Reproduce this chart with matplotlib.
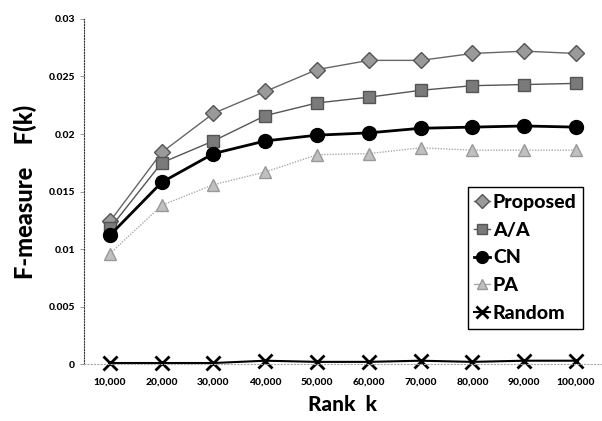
import matplotlib.pyplot as plt

ranks = ["10,000", "20,000", "30,000", "40,000", "50,000",
         "60,000", "70,000", "80,000", "90,000", "100,000"]
proposed = [0.0124, 0.0184, 0.0218, 0.0237, 0.0256, 0.0264, 0.0264, 0.0270, 0.0272, 0.0270]
aa = [0.0118, 0.0175, 0.0194, 0.0216, 0.0227, 0.0232, 0.0238, 0.0242, 0.0243, 0.0244]
cn = [0.0112, 0.0158, 0.0183, 0.0194, 0.0199, 0.0201, 0.0205, 0.0206, 0.0207, 0.0206]
pa = [0.0096, 0.0138, 0.0156, 0.0167, 0.0182, 0.0183, 0.0188, 0.0186, 0.0186, 0.0186]
rnd = [0.0001, 0.0001, 0.0001, 0.0003, 0.0002, 0.0002, 0.0003, 0.0002, 0.0003, 0.0003]
yticks = [0, 0.005, 0.01, 0.015, 0.02, 0.025, 0.03]
ytick_labels = ["0", "0.005", "0.01", "0.015", "0.02", "0.025", "0.03"]

plt.rcParams['font.family'] = ['Lato', 'DejaVu Sans']
W = 'black'

fig = plt.figure(figsize=(6.02, 4.21), dpi=100)
ax = fig.add_axes([0.1395, 0.135, 0.8605, 0.82])
x = list(range(len(ranks)))

ax.plot(x, proposed, color='#666666', lw=1, marker='D', ms=8,
        mfc='#9a9a9a', mec='#555555', label='Proposed', clip_on=False)
ax.plot(x, aa, color='#555555', lw=1, marker='s', ms=9,
        mfc='#7a7a7a', mec='#555555', label='A/A', clip_on=False)
ax.plot(x, cn, color='black', lw=2, marker='o', ms=10,
        mfc='black', mec='black', label='CN', clip_on=False)
ax.plot(x, pa, color='#aaaaaa', lw=1, ls=(0, (1, 1)), marker='^', ms=8,
        mfc='#c0c0c0', mec='#999999', label='PA', clip_on=False)
ax.plot(x, rnd, color='black', lw=1.5, marker='x', ms=10, mew=2,
        label='Random', clip_on=False)

ax.set_xlim(-0.5, 9.5)
ax.set_ylim(0, 0.03)
ax.set_xticks(x)
ax.set_xticklabels(ranks, fontsize=7.5, fontweight=W)
ax.set_yticks(yticks)
ax.set_yticklabels(ytick_labels, fontsize=7.5, fontweight=W)
ax.tick_params(axis='x', length=0, pad=10)
ax.tick_params(axis='y', length=3, width=0.6, color='#888888')

for s in ['top', 'right']:
    ax.spines[s].set_visible(False)
ax.spines['left'].set_linestyle((0, (1, 1.5)))
ax.spines['left'].set_color('#333333')
ax.spines['bottom'].set_linestyle((0, (1, 2)))
ax.spines['bottom'].set_color('#aaaaaa')

ax.set_xlabel("Rank  k", fontsize=15, fontweight=W, labelpad=6)
ax.set_ylabel("F-measure    F(k)", fontsize=17, fontweight=W, labelpad=8)

leg = ax.legend(loc='lower right', bbox_to_anchor=(0.983, 0.075),
                prop={'size': 14, 'weight': W},
                handlelength=0.8, handletextpad=0.15, borderpad=0.35,
                labelspacing=0.55, fancybox=False, edgecolor='black',
                framealpha=1, markerscale=0.85)
leg.get_frame().set_linewidth(1.0)
for h in leg.get_lines():
    h.set_linestyle('-')

fig.savefig("out.png", dpi=100)
